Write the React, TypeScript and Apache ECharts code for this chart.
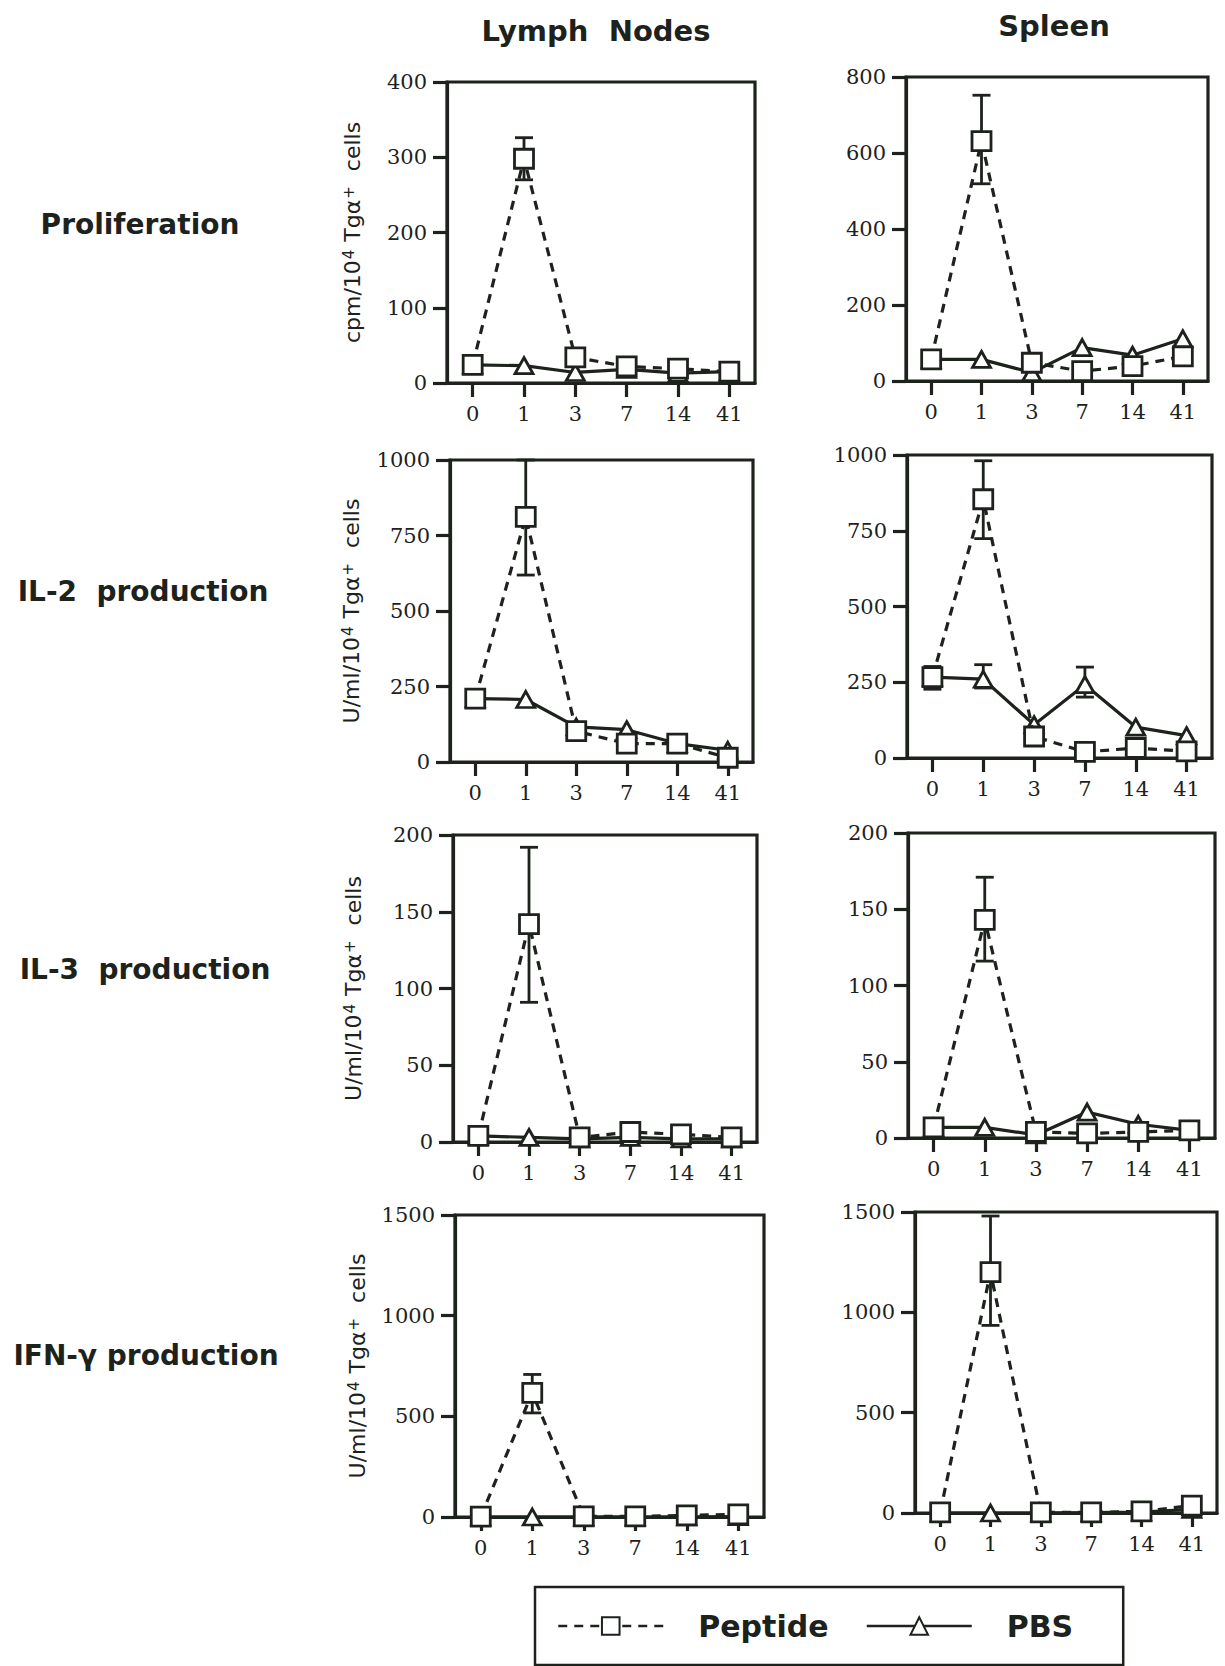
import React, { useEffect, useRef } from "react";
import * as echarts from "echarts";

// ---------- data ----------
const days = ["0", "1", "3", "7", "14", "41"];

// Proliferation (cpm/10^4 Tga+ cells)
const lnProlifPeptide = [24, 298, 34, 22, 19, 15];
const lnProlifPBS = [24, 23, 14, 18, 13, 15];
const lnProlifErr = [[1, 270, 326]];
const spProlifPeptide = [57, 631, 48, 26, 39, 65];
const spProlifPBS = [57, 57, 22, 88, 68, 111];
const spProlifErr = [[1, 519, 752]];

// IL-2 production (U/ml/10^4 Tga+ cells)
const lnIL2Peptide = [210, 812, 102, 61, 61, 14];
const lnIL2PBS = [210, 207, 116, 107, 61, 39];
const lnIL2Err = [[1, 619, 1000]];
const spIL2Peptide = [267, 854, 71, 20, 33, 22];
const spIL2PBS = [267, 260, 110, 242, 102, 74];
const spIL2Err = [[0, 227, 302], [1, 724, 981], [1, 231, 308], [3, 201, 300]];

// IL-3 production
const lnIL3Peptide = [4, 142, 3, 6.5, 5, 3];
const lnIL3PBS = [4, 3, 2, 3, 2, 2];
const lnIL3Err = [[1, 91, 192]];
const spIL3Peptide = [7, 143, 4, 3, 4, 5];
const spIL3PBS = [7, 7, 2, 17, 9, 5];
const spIL3Err = [[1, 116, 171]];

// IFN-gamma production
const lnIFNPeptide = [2, 617, 3, 3, 8, 13];
const lnIFNPBS = [0, 0, 0, 0, 0, 2];
const lnIFNErr = [[1, 517, 708]];
const spIFNPeptide = [3, 1200, 3, 3, 8, 37];
const spIFNPBS = [0, 0, 0, 2, 5, 18];
const spIFNErr = [[1, 935, 1480]];

// y tick labels
const ticksProlifLN = [0, 100, 200, 300, 400];
const ticksProlifSp = [0, 200, 400, 600, 800];
const ticksIL2 = [0, 250, 500, 750, 1000];
const ticksIL3 = [0, 50, 100, 150, 200];
const ticksIFN = [0, 500, 1000, 1500];

const columnTitles = ["Lymph  Nodes", "Spleen"];
const rowTitles = ["Proliferation", "IL-2  production", "IL-3  production", "IFN-\u03b3 production"];
const seriesNames = ["Peptide", "PBS"];
const yNameCpm = "{n|cpm/10}{s|4}{n| Tg\u03b1}{s|+}{n|  cells}";
const yNameU = "{n|U/ml/10}{s|4}{n| Tg\u03b1}{s|+}{n|  cells}";

// ---------- layout / style ----------
const INK = "#1d221d";
const LW = 3.2;
const panels = [
  { grid: { left: 447, top: 82, width: 308, height: 301 }, ticks: ticksProlifLN, pep: lnProlifPeptide, pbs: lnProlifPBS, err: lnProlifErr, yName: yNameCpm, nameGap: 84 },
  { grid: { left: 906, top: 77, width: 302, height: 304 }, ticks: ticksProlifSp, pep: spProlifPeptide, pbs: spProlifPBS, err: spProlifErr, yName: "" },
  { grid: { left: 450, top: 460, width: 303, height: 302 }, ticks: ticksIL2, pep: lnIL2Peptide, pbs: lnIL2PBS, err: lnIL2Err, yName: yNameU, nameGap: 88 },
  { grid: { left: 907, top: 455, width: 305, height: 303 }, ticks: ticksIL2, pep: spIL2Peptide, pbs: spIL2PBS, err: spIL2Err, yName: "" },
  { grid: { left: 453, top: 835, width: 304, height: 307 }, ticks: ticksIL3, pep: lnIL3Peptide, pbs: lnIL3PBS, err: lnIL3Err, yName: yNameU, nameGap: 89 },
  { grid: { left: 908, top: 833, width: 307, height: 305 }, ticks: ticksIL3, pep: spIL3Peptide, pbs: spIL3PBS, err: spIL3Err, yName: "" },
  { grid: { left: 455, top: 1215, width: 309, height: 302 }, ticks: ticksIFN, pep: lnIFNPeptide, pbs: lnIFNPBS, err: lnIFNErr, yName: yNameU, nameGap: 87 },
  { grid: { left: 915, top: 1212, width: 302, height: 301 }, ticks: ticksIFN, pep: spIFNPeptide, pbs: spIFNPBS, err: spIFNErr, yName: "" },
];

const rowLabelPos = [
  { x: 140, y: 224 },
  { x: 143, y: 591 },
  { x: 145, y: 969 },
  { x: 146, y: 1355 },
];
const colLabelPos = [
  { x: 596, y: 31 },
  { x: 1054, y: 26 },
];

function buildOption() {
  const grids: any[] = [];
  const xAxes: any[] = [];
  const yAxes: any[] = [];
  const series: any[] = [];

  panels.forEach((p, i) => {
    grids.push({
      ...p.grid,
      show: true,
      borderColor: INK,
      borderWidth: LW,
      backgroundColor: "transparent",
      containLabel: false,
    });
    xAxes.push({
      type: "category",
      gridIndex: i,
      data: days,
      boundaryGap: true,
      axisLine: { show: true, lineStyle: { color: INK, width: LW } },
      axisTick: { show: true, alignWithLabel: true, interval: 0, length: 14, lineStyle: { color: INK, width: LW } },
      axisLabel: { show: true, interval: 0, margin: 20, color: INK, fontFamily: "DejaVu Serif", fontSize: 21 },
      splitLine: { show: false },
    });
    const ticks = p.ticks;
    const interval = ticks[1] - ticks[0];
    yAxes.push({
      type: "value",
      gridIndex: i,
      min: ticks[0],
      max: ticks[ticks.length - 1],
      interval,
      name: p.yName,
      nameLocation: "middle",
      nameRotate: 90,
      nameGap: p.nameGap || 80,
      nameTextStyle: {
        color: INK,
        rich: {
          n: { fontFamily: "DejaVu Sans", fontSize: 22, color: INK },
          s: { fontFamily: "DejaVu Sans", fontSize: 15, color: INK, verticalAlign: "top", padding: [0, 1, 0, 1] },
        },
      },
      axisLine: { show: true, lineStyle: { color: INK, width: LW } },
      axisTick: { show: true, length: 14, lineStyle: { color: INK, width: LW } },
      axisLabel: {
        show: true,
        margin: 20,
        color: INK,
        fontFamily: "DejaVu Serif",
        fontSize: 21,
        formatter: (v: number) => String(v),
      },
      splitLine: { show: false },
    });

    series.push({
      type: "custom",
      name: "error",
      xAxisIndex: i,
      yAxisIndex: i,
      z: 1,
      silent: true,
      clip: false,
      encode: { x: 0, y: [1, 2] },
      data: p.err,
      renderItem: (params: any, api: any) => {
        const xi = api.value(0);
        const lo = api.coord([xi, api.value(1)]);
        const hi = api.coord([xi, api.value(2)]);
        const hw = 9;
        const st = { stroke: INK, lineWidth: 2.8 };
        return {
          type: "group",
          children: [
            { type: "line", shape: { x1: lo[0], y1: lo[1], x2: hi[0], y2: hi[1] }, style: st },
            { type: "line", shape: { x1: lo[0] - hw, y1: lo[1], x2: lo[0] + hw, y2: lo[1] }, style: st },
            { type: "line", shape: { x1: hi[0] - hw, y1: hi[1], x2: hi[0] + hw, y2: hi[1] }, style: st },
          ],
        };
      },
    });
    series.push({
      type: "line",
      name: seriesNames[1],
      xAxisIndex: i,
      yAxisIndex: i,
      data: p.pbs,
      z: 2,
      clip: false,
      symbol: "triangle",
      symbolSize: [18, 16],
      showAllSymbol: true,
      lineStyle: { color: INK, width: LW, type: "solid" },
      itemStyle: { color: "#ffffff", borderColor: INK, borderWidth: 2.8 },
      emphasis: { disabled: true },
    });
    series.push({
      type: "line",
      name: seriesNames[0],
      xAxisIndex: i,
      yAxisIndex: i,
      data: p.pep,
      z: 3,
      clip: false,
      symbol: "rect",
      symbolSize: 19,
      showAllSymbol: true,
      lineStyle: { color: INK, width: LW, type: [9, 7] },
      itemStyle: { color: "#ffffff", borderColor: INK, borderWidth: 2.8 },
      emphasis: { disabled: true },
    });
  });

  const graphics: any[] = [];
  columnTitles.forEach((t, i) => {
    graphics.push({
      type: "text",
      x: colLabelPos[i].x,
      y: colLabelPos[i].y,
      style: { text: t, fill: INK, font: "bold 29px 'DejaVu Sans'", textAlign: "center", textVerticalAlign: "middle" },
    });
  });
  rowTitles.forEach((t, i) => {
    graphics.push({
      type: "text",
      x: rowLabelPos[i].x,
      y: rowLabelPos[i].y,
      style: { text: t, fill: INK, font: "bold 28px 'DejaVu Sans'", textAlign: "center", textVerticalAlign: "middle" },
    });
  });

  return {
    animation: false,
    backgroundColor: "#ffffff",
    grid: grids,
    xAxis: xAxes,
    yAxis: yAxes,
    series,
    legend: {
      show: true,
      data: seriesNames,
      left: 535,
      top: 1587,
      orient: "horizontal",
      selectedMode: false,
      borderColor: INK,
      borderWidth: 2.5,
      padding: [24, 50, 24, 22],
      itemWidth: 105,
      itemHeight: 22,
      itemGap: 37,
      lineStyle: { width: 2.5 },
      textStyle: { color: INK, fontFamily: "DejaVu Sans", fontWeight: "bold", fontSize: 30, padding: [0, 0, 0, 30] },
    },
    graphic: graphics,
  };
}

export default function App() {
  const ref = useRef<HTMLDivElement>(null);
  useEffect(() => {
    document.body.style.margin = "0";
    if (!ref.current) return;
    const chart = echarts.init(ref.current, null, { renderer: "svg" });
    chart.setOption(buildOption() as any);
    return () => chart.dispose();
  }, []);
  return <div ref={ref} style={{ width: 1225, height: 1666, background: "#fff" }} />;
}
